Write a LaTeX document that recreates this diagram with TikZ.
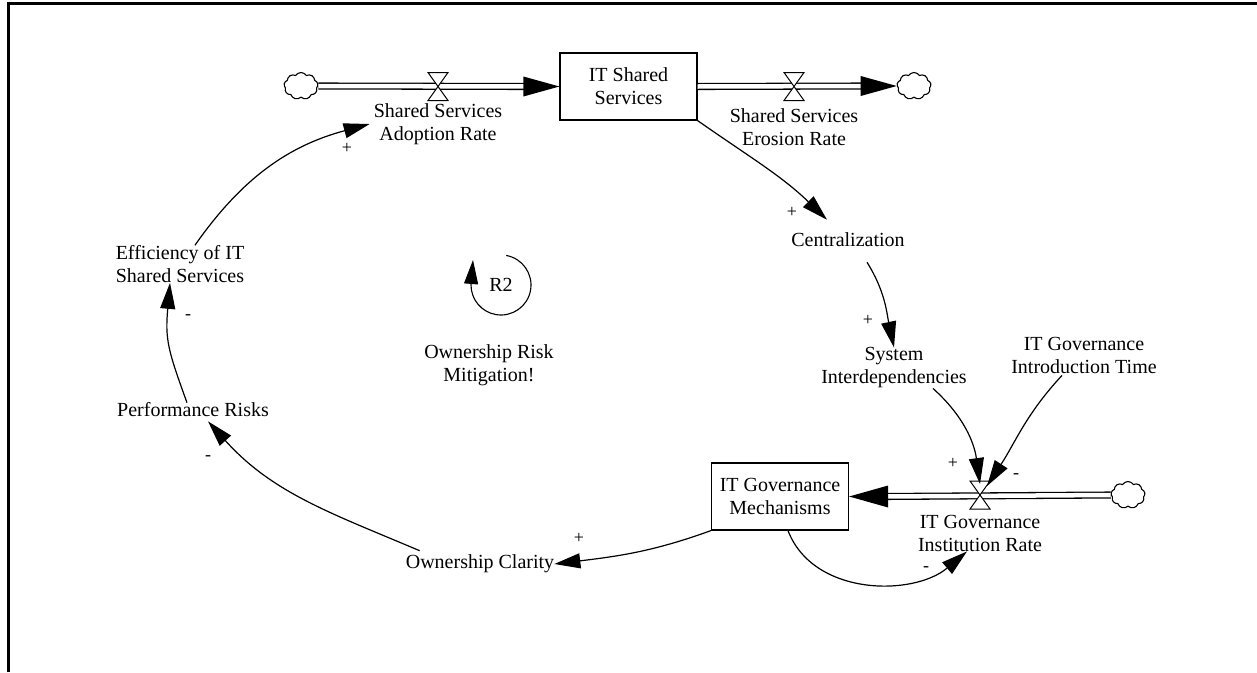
\documentclass[tikz,border=0pt]{standalone}
\usepackage{fontspec}
\setmainfont{Liberation Serif}
\usetikzlibrary{arrows.meta,shapes.symbols}
\begin{document}
\begin{tikzpicture}[x=1pt,y=1pt,
  lbl/.style={align=center, font=\fontsize{20}{23}\selectfont, inner sep=0pt},
  sign/.style={font=\fontsize{18}{18}\selectfont, inner sep=0pt},
  stock/.style={draw, line width=1.2pt, minimum width=137pt, minimum height=67pt, align=center, font=\fontsize{20}{23}\selectfont, inner sep=0pt},
  link/.style={line width=1.2pt, -{Triangle[length=26pt,width=15pt]}},
  pipe/.style={draw, double, double distance=4.5pt, line width=1.3pt},
  cloudy/.style={cloud, cloud puffs=9, cloud puff arc=115, aspect=1.3, draw, line width=1.1pt, minimum width=34pt, minimum height=27pt, inner sep=0pt, fill=white},
  valve/.pic={
    \draw[fill=white, line width=1pt] (-10,14) -- (10,14) -- (0,0) -- cycle;
    \draw[fill=white, line width=1pt] (-10,-14) -- (10,-14) -- (0,0) -- cycle;
  }
]
\useasboundingbox (0,0) rectangle (1257,-672);
% frame
\draw[line width=2.2pt] (8.5,-672) -- (8.5,-3.5) -- (1257,-3.5);

% stocks and clouds
\node[stock] (itss) at (628.5,-86.5) {IT Shared\\Services};
\node[stock] (itgm) at (780,-496.5) {IT Governance\\Mechanisms};
\node[cloudy] (cloudL) at (301,-86) {};
\node[cloudy] (cloudR) at (914,-86) {};
\node[cloudy] (cloudB) at (1128,-495) {};
\coordinate (v1) at (438,-86.5);
\coordinate (v2) at (794,-86.5);
\coordinate (v3) at (980,-495);

% variables
\node[lbl] (ssar) at (438,-124) {Shared Services\\Adoption Rate};
\node[lbl] (sser) at (794,-127) {Shared Services\\Erosion Rate};
\node[lbl] (cent) at (848,-240) {Centralization};
\node[lbl] (sysint) at (894,-368) {System\\Interdependencies};
\node[lbl] (intro) at (1084,-355) {IT Governance\\Introduction Time};
\node[lbl] (itgir) at (980,-533) {IT Governance\\Institution Rate};
\node[lbl] (oc) at (480,-564) {Ownership Clarity};
\node[lbl] (pr) at (193,-410) {Performance Risks};
\node[lbl] (eff) at (180,-264) {Efficiency of IT\\Shared Services};
\node[lbl] (r2) at (501,-285) {R2};
\node[lbl] (orm) at (489,-365) {Ownership Risk\\Mitigation!};

% pipes
\draw[pipe] (cloudL.east) -- ([xshift=-30pt]itss.west);
\fill (itss.west) -- ++(-36,10) -- ++(0,-20) -- cycle;
\draw[pipe] (itss.east) -- ([xshift=-30pt]cloudR.west);
\fill (cloudR.west) -- ++(-36,10) -- ++(0,-20) -- cycle;
\draw[pipe] (cloudB.west) -- ([xshift=33pt]itgm.east);
\fill (itgm.east) -- ++(39,11) -- ++(0,-22) -- cycle;
\pic at (v1) {valve};
\pic at (v2) {valve};
\pic at (v3) {valve};

% links
\draw[link] ([xshift=15pt]eff.north) to[out=55,in=195] ([xshift=-4pt]ssar.west);
\draw[link] ([xshift=-6pt]pr.north) to[out=110,in=-95,looseness=1.2] ([xshift=-10pt]eff.south);
\draw[link] ([xshift=14pt,yshift=4pt]oc.north west) to[out=157,in=-48] ([xshift=15pt,yshift=-4pt]pr.south);
\draw[link] (itgm.south west) to[out=200,in=7] (oc.east);
\draw[link] (itss.south east) to[out=-35,in=136] ([xshift=-21pt,yshift=13pt]cent.north);
\draw[link] ([xshift=19pt,yshift=-15pt]cent.south) to[out=-58,in=102] (sysint.north);
\draw[link] ([xshift=39pt]sysint.south) to[out=-42,in=98] ([yshift=11pt]v3);
\draw[link] ([xshift=-22pt,yshift=-2pt]intro.south) to[out=227,in=57] ([xshift=7pt,yshift=9pt]v3);
\draw[link] ([xshift=8pt]itgm.south) to[out=-69,in=220] ([xshift=-13pt]itgir.south);

% loop marker
\draw[line width=1.1pt, -{Triangle[length=24pt,width=14pt]}] ([shift={(80:30)}]r2.center) arc[start angle=80, end angle=-180, radius=30] -- ++(2,25);

% signs
\node[sign] (s1) at (347,-148) {+};
\node[sign] (s2) at (792,-212) {+};
\node[sign] (s3) at (868,-320) {+};
\node[sign] (s4) at (953,-463) {+};
\node[sign] (s5) at (1016,-476) {-};
\node[sign] (s6) at (926,-569) {-};
\node[sign] (s7) at (579,-538) {+};
\node[sign] (s8) at (208,-458) {-};
\node[sign] (s9) at (188,-317) {-};
\end{tikzpicture}
\end{document}
